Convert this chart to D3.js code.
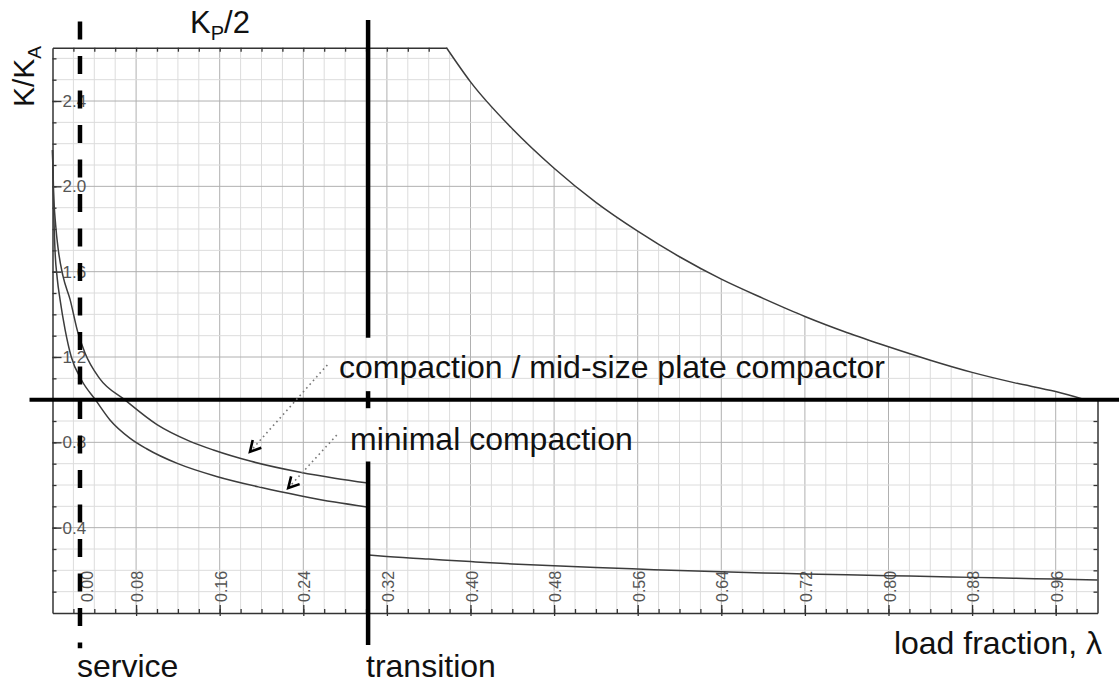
<!DOCTYPE html>
<html><head><meta charset="utf-8">
<script src="https://cdn.jsdelivr.net/npm/d3@7"></script>
<style>
body{margin:0;background:#fff}
svg{display:block}
text{font-family:"Liberation Sans",Arial,Helvetica,sans-serif}
</style>
</head><body>
<svg id="chart" width="1119" height="684"></svg>
<script>
// ---- data ----
const kpHalf = [[0.377,2.65],[0.40,2.49],[0.44,2.27],[0.48,2.085],[0.52,1.925],[0.56,1.79],[0.60,1.67],[0.64,1.565],[0.68,1.475],[0.72,1.39],[0.76,1.315],[0.80,1.248],[0.84,1.185],[0.88,1.128],[0.92,1.08],[0.96,1.038],[0.988,1.0]];
const compaction = [[0,2.17],[0.001,1.98],[0.003,1.82],[0.0056,1.70],[0.01,1.58],[0.0168,1.47],[0.024,1.32],[0.031,1.22],[0.045,1.10],[0.069,1.0],[0.10,0.883],[0.13,0.808],[0.154,0.764],[0.19,0.711],[0.237,0.66],[0.27,0.632],[0.302,0.609]];
const minimal = [[0,2.17],[0.001,1.92],[0.0024,1.70],[0.0045,1.57],[0.0072,1.47],[0.012,1.33],[0.018,1.20],[0.028,1.09],[0.041,1.0],[0.055,0.905],[0.074,0.82],[0.09,0.77],[0.12,0.70],[0.157,0.64],[0.20,0.588],[0.237,0.55],[0.27,0.52],[0.301,0.497]];
const afterTransition = [[0.302,0.272],[0.314,0.267],[0.36,0.253],[0.40,0.241],[0.44,0.23],[0.48,0.221],[0.52,0.213],[0.56,0.206],[0.60,0.199],[0.64,0.193],[0.68,0.188],[0.72,0.183],[0.76,0.179],[0.80,0.175],[0.84,0.171],[0.88,0.167],[0.92,0.163],[0.96,0.159],[1.0,0.155]];

const xTickValues = [0.032,0.08,0.16,0.24,0.32,0.40,0.48,0.56,0.64,0.72,0.80,0.88,0.96];
const xTickLabels = ["0.00","0.08","0.16","0.24","0.32","0.40","0.48","0.56","0.64","0.72","0.80","0.88","0.96"];
const yTickValues = [0.4,0.8,1.2,1.6,2.0,2.4];
const yTickLabels = ["0.4","0.8","1.2","1.6","2.0","2.4"];

const serviceLambda = 0.0263;
const transitionLambda = 0.302;
const referenceK = 1.0;
const transitionSegments = [[2.78,1.29],[1.04,0.96],[0.71,-0.15]];
const serviceSpan = [2.773,-0.165];
const referenceSpan = [-0.022,1.04];

const arrows = [
  {from:[0.263,1.163], to:[0.189,0.756]},
  {from:[0.272,0.834], to:[0.2256,0.586]}
];

// ---- scales ----
const svg = d3.select("#chart");
const x = d3.scaleLinear().domain([0,1]).range([52.5,1097.5]);
const y = d3.scaleLinear().domain([0,2.65]).range([613,47.7]);

const line = d3.line().x(d=>x(d[0])).y(d=>y(d[1])).curve(d3.curveMonotoneX);

// clip: region below the K_P/2 boundary
const clipPath = svg.append("defs").append("clipPath").attr("id","plotClip").append("path");
{
  const top = line(kpHalf);
  const d = `M${x(0)},${y(0)}L${x(0)},${y(y.domain()[1])}L` + top.slice(1) +
            `L${x(1)},${y(referenceK)}L${x(1)},${y(0)}Z`;
  clipPath.attr("d", d);
}

// ---- grid ----
const grid = svg.append("g").attr("clip-path","url(#plotClip)");
const xGrid = d3.range(1,50).map(i=>i*0.02);
const yGrid = d3.range(1,27).map(i=>i*0.1);
grid.selectAll(".vg").data(xGrid).join("line")
  .attr("x1",d=>x(d)).attr("x2",d=>x(d)).attr("y1",y(0)).attr("y2",y(2.65))
  .attr("stroke",(d,i)=>((i+1)%4===0)?"#b0b0b0":"#dcdcdc").attr("stroke-width",1);
grid.selectAll(".hg").data(yGrid).join("line")
  .attr("y1",d=>y(d)).attr("y2",d=>y(d)).attr("x1",x(0)).attr("x2",x(1))
  .attr("stroke",(d,i)=>((i+1)%4===0)?"#b0b0b0":"#dcdcdc").attr("stroke-width",1);

// ---- axes (frame + ticks) ----
function styleAxis(g){
  g.selectAll(".domain").attr("stroke","#333").attr("stroke-width",1.5);
  g.selectAll(".tick line").attr("stroke","#333").attr("stroke-width",1.3);
}
const minorX = d3.range(1,50).map(i=>i*0.02);
const majorX = d3.range(1,13).map(i=>i*0.08);
svg.append("g").attr("transform",`translate(0,${y(0)})`)
  .call(d3.axisBottom(x).tickValues(minorX).tickSizeInner(-4).tickSizeOuter(0).tickFormat(""))
  .call(styleAxis);
svg.append("g").attr("transform",`translate(0,${y(0)})`)
  .call(d3.axisBottom(x).tickValues(majorX).tickSizeInner(-8).tickSizeOuter(0).tickFormat(""))
  .call(g=>g.select(".domain").remove()).call(styleAxis);
svg.append("g").attr("transform",`translate(0,${y(0)})`)
  .call(d3.axisBottom(x).tickValues(majorX).tickSizeInner(3).tickSizeOuter(0).tickFormat(""))
  .call(g=>g.select(".domain").remove()).call(styleAxis);

const xTop = x.copy().domain([0,kpHalf[0][0]]).range([x(0),x(kpHalf[0][0])]);
svg.append("g").attr("transform",`translate(0,${y(2.65)})`)
  .call(d3.axisTop(xTop).tickValues(minorX.filter(v=>v<kpHalf[0][0])).tickSizeInner(-4).tickSizeOuter(0).tickFormat(""))
  .call(styleAxis);

const minorY = d3.range(1,27).map(i=>i*0.1);
svg.append("g").attr("transform",`translate(${x(0)},0)`)
  .call(d3.axisLeft(y).tickValues(minorY).tickSizeInner(-4).tickSizeOuter(0).tickFormat(""))
  .call(styleAxis);
svg.append("g").attr("transform",`translate(${x(0)},0)`)
  .call(d3.axisLeft(y).tickValues(yTickValues).tickSizeInner(-9).tickSizeOuter(0).tickFormat(""))
  .call(g=>g.select(".domain").remove()).call(styleAxis);

const yRight = y.copy().domain([0,referenceK]).range([y(0),y(referenceK)]);
svg.append("g").attr("transform",`translate(${x(1)},0)`)
  .call(d3.axisRight(yRight).tickValues(minorY.filter(v=>v<referenceK-0.01)).tickSizeInner(-4).tickSizeOuter(0).tickFormat(""))
  .call(styleAxis);

// tick labels (inside plot)
svg.append("g").selectAll("text").data(yTickValues).join("text")
  .attr("x",x(0)+10).attr("y",d=>y(d)).attr("dy","0.36em")
  .attr("font-size",17).attr("fill","#555").text((d,i)=>yTickLabels[i]);
svg.append("g").selectAll("text").data(xTickValues).join("text")
  .attr("transform",d=>`translate(${x(d)+7},${y(0)-11}) rotate(-90)`)
  .attr("font-size",16).attr("fill","#555").text((d,i)=>xTickLabels[i]);

// ---- curves ----
const curves = svg.append("g").attr("fill","none").attr("stroke","#3c3c3c").attr("stroke-width",1.5);
[kpHalf, compaction, minimal, afterTransition].forEach(s=>{
  curves.append("path").attr("d",line(s));
});

// ---- reference lines ----
svg.append("line")
  .attr("x1",x(referenceSpan[0])).attr("x2",x(referenceSpan[1]))
  .attr("y1",y(referenceK)).attr("y2",y(referenceK))
  .attr("stroke","#000").attr("stroke-width",4);
svg.append("line")
  .attr("x1",x(serviceLambda)).attr("x2",x(serviceLambda))
  .attr("y1",y(serviceSpan[0])).attr("y2",y(serviceSpan[1]))
  .attr("stroke","#000").attr("stroke-width",4.5).attr("stroke-dasharray","18,16.5");
svg.append("g").selectAll("line").data(transitionSegments).join("line")
  .attr("x1",x(transitionLambda)).attr("x2",x(transitionLambda))
  .attr("y1",d=>y(d[0])).attr("y2",d=>y(d[1]))
  .attr("stroke","#000").attr("stroke-width",4.5);

// ---- annotation arrows ----
const ann = svg.append("g");
arrows.forEach(a=>{
  const x0=x(a.from[0]), y0=y(a.from[1]), x1=x(a.to[0]), y1=y(a.to[1]);
  ann.append("line").attr("x1",x0).attr("y1",y0).attr("x2",x1).attr("y2",y1)
    .attr("stroke","#777").attr("stroke-width",1.6).attr("stroke-dasharray","1.6,3.4");
  const ang = Math.atan2(y0-y1, x0-x1);
  const L=12, spread=0.5;
  const p1=[x1+L*Math.cos(ang+spread), y1+L*Math.sin(ang+spread)];
  const p2=[x1+L*Math.cos(ang-spread), y1+L*Math.sin(ang-spread)];
  ann.append("path").attr("d",`M${p1[0]},${p1[1]}L${x1},${y1}L${p2[0]},${p2[1]}`)
    .attr("fill","none").attr("stroke","#000").attr("stroke-width",2.6);
});

// ---- texts ----
const big = 32;
svg.append("text").attr("x",339).attr("y",378).attr("font-size",big).attr("fill","#111")
  .text("compaction / mid-size plate compactor");
svg.append("text").attr("x",350).attr("y",450).attr("font-size",big).attr("fill","#111")
  .text("minimal compaction");
svg.append("text").attr("x",77).attr("y",677).attr("font-size",big).attr("fill","#111").text("service");
svg.append("text").attr("x",366).attr("y",677).attr("font-size",big).attr("fill","#111").text("transition");
svg.append("text").attr("x",1102).attr("y",654).attr("text-anchor","end").attr("font-size",big).attr("fill","#111").text("load fraction, λ");

const kp = svg.append("text").attr("x",190).attr("y",33).attr("font-size",31).attr("fill","#111");
kp.append("tspan").text("K");
kp.append("tspan").attr("font-size",20).attr("dy",7).text("P");
kp.append("tspan").attr("dy",-7).text("/2");

const ky = svg.append("text").attr("transform","translate(34,107) rotate(-90)").attr("font-size",30).attr("fill","#111");
ky.append("tspan").text("K/K");
ky.append("tspan").attr("font-size",19).attr("dy",7).text("A");
</script>
</body></html>
